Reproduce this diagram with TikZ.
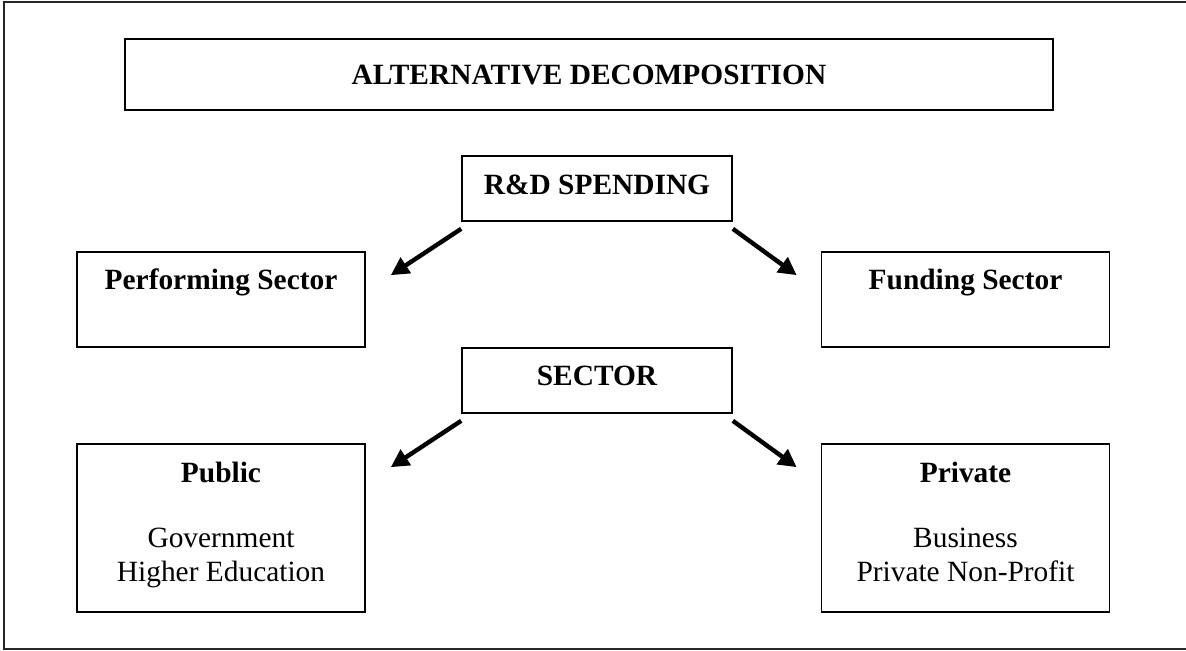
\documentclass[tikz,border=0pt]{standalone}
\usepackage{fontspec}
\setmainfont{Liberation Serif}
\usetikzlibrary{arrows.meta}
\begin{document}
\fontsize{14.7pt}{17pt}\selectfont
\begin{tikzpicture}[x=0.5pt, y=-0.5pt,
	box/.style={draw, line width=0.8pt, inner sep=0pt},
	head/.style={anchor=base, inner sep=0pt, font=\bfseries},
	txt/.style={anchor=north, inner sep=0pt, align=center},
	arr/.style={line width=2.2pt, -{Triangle[length=9pt, width=9pt]}}]
	\useasboundingbox (0, 0) rectangle (1186, 651);
	\draw[line width=1pt, black!85] (1190, 2) -- (3.5, 2) -- (3.5, 648.5) -- (1190, 648.5);
	% boxes
	\node[box, minimum width=464pt, minimum height=35.5pt] (title) at (589, 74.5) {};
	\node[box, minimum width=135pt, minimum height=32.5pt] (rd) at (597, 188.5) {};
	\node[box, minimum width=144pt, minimum height=47.5pt] (perf) at (221, 299.5) {};
	\node[box, minimum width=144pt, minimum height=47.5pt] (fund) at (965.5, 299.5) {};
	\node[box, minimum width=135pt, minimum height=32.5pt] (sect) at (597, 380.5) {};
	\node[box, minimum width=144pt, minimum height=84pt] (pub) at (221, 528) {};
	\node[box, minimum width=144pt, minimum height=84pt] (priv) at (965.5, 528) {};
	% texts
	\node[head] (titletxt) at (589, 85) {ALTERNATIVE DECOMPOSITION};
	\node[head] (rdtxt) at (597, 195) {R\&D SPENDING};
	\node[head] (perftxt) at (221, 290) {Performing Sector};
	\node[head] (fundtxt) at (965.5, 290) {Funding Sector};
	\node[head] (secttxt) at (597, 386) {SECTOR};
	\node[head] (pubtxt) at (221, 482) {Public};
	\node[head] (privtxt) at (965.5, 482) {Private};
	\node[txt] (pubsub) at (221, 528) {Government\\Higher Education};
	\node[txt] (privsub) at (965.5, 528) {Business\\Private Non-Profit};
	% arrows
	\coordinate (a1) at ([yshift=-3.5pt]rd.south west);
	\coordinate (a2) at ([yshift=-3.5pt]rd.south east);
	\coordinate (b1) at ([yshift=-3.5pt]sect.south west);
	\coordinate (b2) at ([yshift=-3.5pt]sect.south east);
	\coordinate (t1) at ([xshift=12.5pt, yshift=-12pt]perf.north east);
	\coordinate (t2) at ([xshift=-12pt, yshift=-12pt]fund.north west);
	\coordinate (t3) at ([xshift=12.5pt, yshift=-12pt]pub.north east);
	\coordinate (t4) at ([xshift=-12pt, yshift=-12pt]priv.north west);
	\draw[arr] (a1) -- (t1);
	\draw[arr] (a2) -- (t2);
	\draw[arr] (b1) -- (t3);
	\draw[arr] (b2) -- (t4);
\end{tikzpicture}
\end{document}
